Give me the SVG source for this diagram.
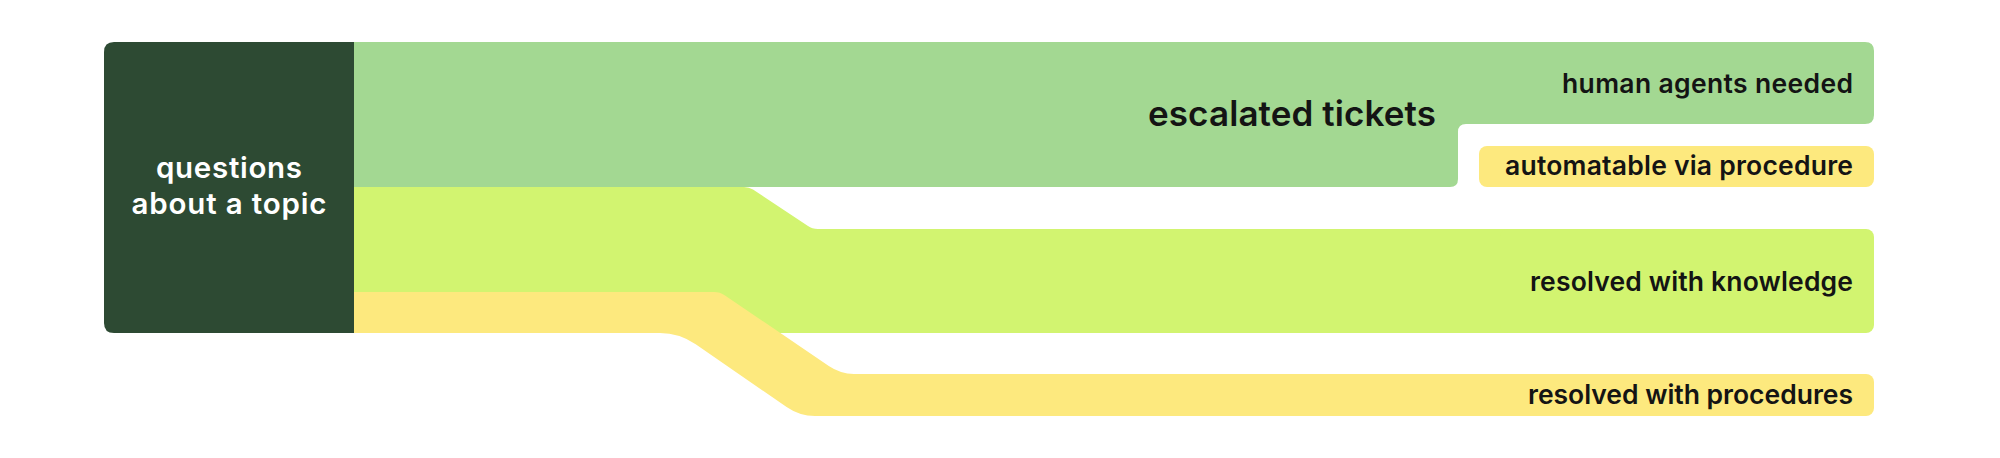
<svg xmlns="http://www.w3.org/2000/svg" width="2000" height="458" viewBox="0 0 2000 458">
<style>
.lbl{font-family:Inter,"Open Sans","Liberation Sans",sans-serif;font-weight:600;fill:#141414}
.end{text-anchor:end;font-size:26.5px}
.white{fill:#ffffff;text-anchor:middle;font-size:29.5px}
.big{font-size:35px}
.g{fill:#A3D892}
.l{fill:#D2F470}
.y{fill:#FDE97E}
</style>
<rect width="2000" height="458" fill="#ffffff"/>
<g id="connectors">
<rect id="flow-escalated" class="g" x="352" y="42" width="900" height="145"/>
<path id="flow-knowledge" class="l" d="M352,187 H744 Q749,187 753,189.5 L808,226 Q812,229 818,229 H1600 V333 H776 L706,292 H352 Z"/>
<path id="flow-procedures" class="y" d="M352,292 H714 Q720,292 725,295.4 L828.8,366.1 Q840.4,374 854,374 H1600 V416 H815 Q799.6,416 786.6,407 L695.7,344.3 Q679.3,333 660,333 H352 Z"/>
</g>
<g id="node-questions">
<path d="M114,42 H354 V333 H114 Q104,333 104,323 V52 Q104,42 114,42 Z" fill="#2D4A33"/>
<text class="lbl white" x="229" y="178" textLength="146">questions</text>
<text class="lbl white" x="229" y="214" textLength="195">about a topic</text>
</g>
<g id="node-escalated">
<path class="g" d="M1200,42 H1470 V124 H1466 Q1458,124 1458,132 V179 Q1458,187 1450,187 H1200 Z"/>
<text class="lbl big" x="1148" y="126" textLength="288">escalated tickets</text>
</g>
<g id="node-human">
<path class="g" d="M1440,42 H1865 Q1874,42 1874,51 V115 Q1874,124 1865,124 H1440 Z"/>
<text class="lbl end" x="1853" y="93" textLength="291">human agents needed</text>
</g>
<g id="node-automatable">
<rect class="y" x="1479" y="146" width="395" height="41" rx="8"/>
<text class="lbl end" x="1853" y="175" textLength="348">automatable via procedure</text>
</g>
<g id="node-knowledge">
<rect class="l" x="1500" y="229" width="374" height="104" rx="8"/>
<text class="lbl end" x="1853" y="291" textLength="323">resolved with knowledge</text>
</g>
<g id="node-procedures">
<rect class="y" x="1500" y="374" width="374" height="42" rx="8"/>
<text class="lbl end" x="1853" y="404" textLength="325">resolved with procedures</text>
</g>
</svg>
